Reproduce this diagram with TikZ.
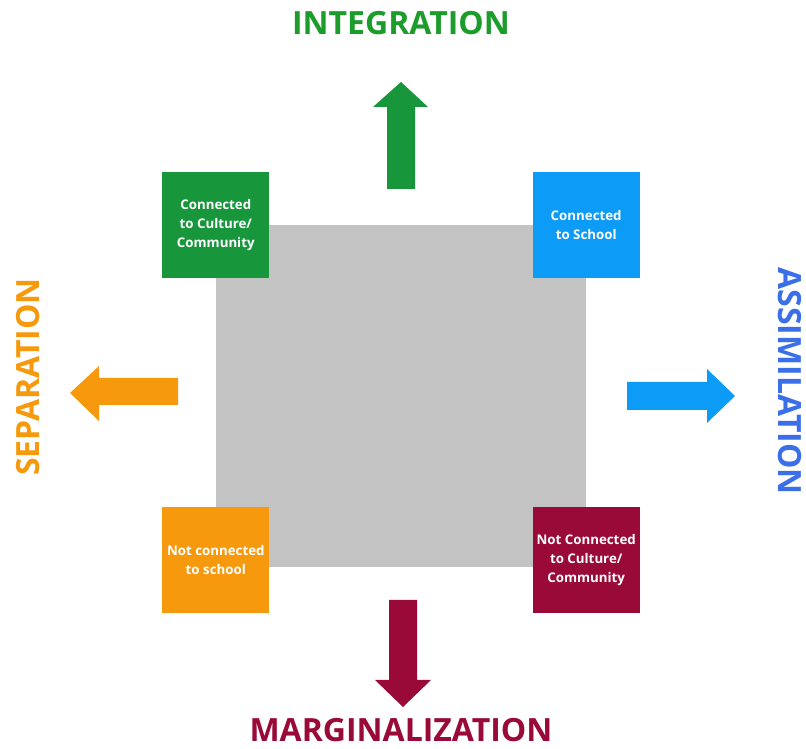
\documentclass[tikz,border=0pt]{standalone}
\usepackage{fontspec}
\setmainfont{Open Sans}
\definecolor{cgreen}{HTML}{17963C}
\definecolor{tgreen}{HTML}{1C9C2A}
\definecolor{cblue}{HTML}{0C9BF7}
\definecolor{tblue}{HTML}{3A6FE8}
\definecolor{corange}{HTML}{F7990D}
\definecolor{cmaroon}{HTML}{9A0A38}
\definecolor{cgray}{HTML}{C3C3C3}
\begin{document}
\begin{tikzpicture}[x=1pt,y=1pt,
  quad/.style={minimum width=107pt,minimum height=106pt,inner sep=0pt,
    text=white,font=\fontsize{13.3}{19}\selectfont\bfseries,align=center},
  title/.style={font=\fontsize{32}{36}\selectfont\bfseries,inner sep=0pt}]
\useasboundingbox (0,0) rectangle (806,749);
% central square
\node[fill=cgray,minimum width=370pt,minimum height=342pt,inner sep=0pt] (core) at (401,353) {};
% corner boxes
\node[quad,fill=cgreen] (cc) at (core.north west) {Connected\\to Culture/\\Community};
\node[quad,fill=cblue] (cs) at (core.north east) {Connected\\to School};
\node[quad,fill=corange] (ns) at ([yshift=7pt]core.south west) {Not connected\\to school};
\node[quad,fill=cmaroon] (nc) at ([yshift=7pt]core.south east) {Not Connected\\to Culture/\\Community};
% arrows
\fill[cgreen] (387,560) -- (415,560) -- (415,642) -- (428,642) -- (401,667) -- (373,642) -- (387,642) -- cycle;
\fill[corange] (178,344) -- (178,371) -- (99,371) -- (99,383) -- (70,356) -- (99,328) -- (99,344) -- cycle;
\fill[cblue] (627,339) -- (627,367) -- (707,367) -- (707,380) -- (735,353) -- (707,326) -- (707,339) -- cycle;
\fill[cmaroon] (389,149) -- (417,149) -- (417,69) -- (431,69) -- (403,42) -- (375,69) -- (389,69) -- cycle;
% labels
\node[title,text=tgreen] (integ) at (401,726) {INTEGRATION};
\node[title,text=cmaroon] (marg) at (401,19) {MARGINALIZATION};
\node[title,text=corange,rotate=90] (sep) at (28,372) {SEPARATION};
\node[title,text=tblue,rotate=-90] (assim) at (790,368) {ASSIMILATION};
\end{tikzpicture}
\end{document}
